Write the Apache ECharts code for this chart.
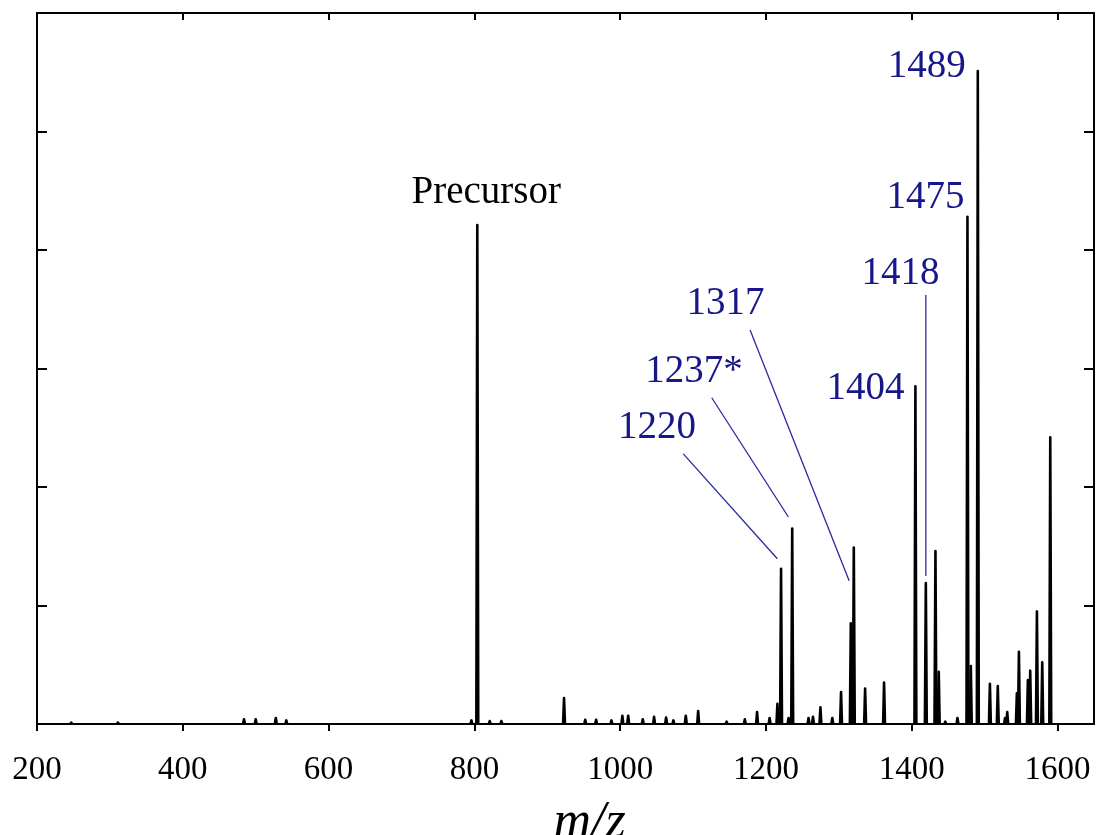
<!DOCTYPE html>
<html>
<head>
<meta charset="utf-8">
<script src="https://cdn.jsdelivr.net/npm/echarts@6/dist/echarts.min.js"></script>
<style>html,body{margin:0;padding:0;background:#fff;}#chart{width:1098px;height:835px;}</style>
</head>
<body>
<div id="chart"></div>
<script>
// ---- data ----
const xTickValues = [200, 400, 600, 800, 1000, 1200, 1400, 1600];
const peakMz = [247, 311, 484, 500, 527.6, 542, 796, 804, 821, 837, 923, 952, 967, 988, 1003, 1011, 1031, 1046.5, 1063, 1073, 1090, 1107, 1146, 1171, 1187.8, 1205, 1215.7, 1220.7, 1231, 1236, 1258.4, 1264.5, 1274.7, 1291, 1303, 1316.4, 1320.5, 1336, 1362, 1405, 1419.3, 1432.5, 1437, 1446, 1462.7, 1476.4, 1481, 1490.6, 1507.2, 1518, 1528, 1531, 1544.2, 1547, 1559.3, 1562.5, 1571.7, 1579, 1590];
const peakIntensity = [0.012, 0.012, 0.04, 0.04, 0.05, 0.03, 0.03, 4.21, 0.025, 0.025, 0.22, 0.035, 0.035, 0.03, 0.07, 0.07, 0.04, 0.06, 0.055, 0.03, 0.07, 0.11, 0.02, 0.04, 0.10, 0.05, 0.17, 1.31, 0.05, 1.65, 0.05, 0.06, 0.14, 0.05, 0.27, 0.85, 1.49, 0.30, 0.35, 2.85, 1.19, 1.46, 0.44, 0.02, 0.05, 4.28, 0.49, 5.51, 0.34, 0.32, 0.05, 0.10, 0.26, 0.61, 0.37, 0.45, 0.95, 0.52, 2.42];
const annoText = ['Precursor', '1220', '1237*', '1317', '1404', '1418', '1475', '1489'];

// ---- annotation layout (data coordinates) ----
const annoPos = [[816.2, 4.48], [1050.5, 2.50], [1101.3, 2.975], [1144.6, 3.55], [1336.7, 2.83], [1384.7, 3.80], [1419, 4.44], [1420.4, 5.545]];
const annoLine = [null, [1086.6, 2.28, 1215.6, 1.395], [1125.6, 2.753, 1230.8, 1.747], [1178.2, 3.325, 1314.1, 1.209], null, [1419.3, 3.62, 1419.3, 1.25], null, null];
const annoColor = ['#000000', '#17178a', '#17178a', '#17178a', '#17178a', '#17178a', '#17178a', '#17178a'];

const PEAK_HALF_WIDTH = 1.3;
const FONT = '"Liberation Serif", "DejaVu Serif", serif';

const chart = echarts.init(document.getElementById('chart'), null, {renderer: 'canvas'});

const axisLineStyle = {color: '#000', width: 2};
const option = {
  backgroundColor: '#fff',
  animation: false,
  grid: {left: 37, right: 4, top: 13, bottom: 111, containLabel: false, outerBoundsMode: 'none'},
  xAxis: [
    {
      type: 'value', position: 'bottom', min: 200, max: 1650, interval: 200,
      axisLine: {show: true, onZero: false, lineStyle: axisLineStyle},
      axisTick: {show: true, inside: false, length: 7, lineStyle: {color: '#000', width: 2}, customValues: xTickValues},
      axisLabel: {show: true, margin: 30, color: '#000', fontFamily: FONT, fontSize: 33, customValues: xTickValues,
        formatter: function (v) { return String(v); }},
      splitLine: {show: false},
      name: 'm/z', nameLocation: 'middle', nameGap: 73,
      nameTextStyle: {fontFamily: FONT, fontStyle: 'italic', fontSize: 52, color: '#000', padding: [0, 0, 0, 48]}
    },
    {
      type: 'value', position: 'top', min: 200, max: 1650, interval: 200,
      axisLine: {show: true, onZero: false, lineStyle: axisLineStyle},
      axisTick: {show: true, inside: true, length: 7, lineStyle: {color: '#000', width: 2}, customValues: xTickValues},
      axisLabel: {show: false},
      splitLine: {show: false}
    }
  ],
  yAxis: [
    {
      type: 'value', position: 'left', min: 0, max: 6, interval: 1,
      axisLine: {show: true, onZero: false, lineStyle: axisLineStyle},
      axisTick: {show: true, inside: true, length: 10, lineStyle: {color: '#000', width: 2}},
      axisLabel: {show: false}, splitLine: {show: false}
    },
    {
      type: 'value', position: 'right', min: 0, max: 6, interval: 1,
      axisLine: {show: true, onZero: false, lineStyle: axisLineStyle},
      axisTick: {show: true, inside: true, length: 10, lineStyle: {color: '#000', width: 2}},
      axisLabel: {show: false}, splitLine: {show: false}
    }
  ],
  series: [
    {
      type: 'custom',
      name: 'spectrum',
      xAxisIndex: 0, yAxisIndex: 0,
      clip: true,
      data: peakMz.map((m, i) => [m, peakIntensity[i]]),
      renderItem: function (params, api) {
        const m = api.value(0), h = api.value(1);
        const p0 = api.coord([m - PEAK_HALF_WIDTH, 0]);
        const p1 = api.coord([m, h]);
        const p2 = api.coord([m + PEAK_HALF_WIDTH, 0]);
        return {
          type: 'polyline',
          shape: {points: [p0, p1, p2]},
          style: {stroke: '#000', lineWidth: 2.6, fill: null, lineJoin: 'round'}
        };
      }
    },
    {
      type: 'custom',
      name: 'annotations',
      xAxisIndex: 0, yAxisIndex: 0,
      clip: false,
      silent: true,
      data: annoPos.map(p => [p[0], p[1]]),
      renderItem: function (params, api) {
        const i = params.dataIndex;
        const pt = api.coord([api.value(0), api.value(1)]);
        const children = [{
          type: 'text',
          x: pt[0], y: pt[1],
          style: {
            text: annoText[i], fill: annoColor[i],
            font: '39px ' + FONT,
            align: 'center', verticalAlign: 'middle'
          }
        }];
        const ln = annoLine[i];
        if (ln) {
          const a = api.coord([ln[0], ln[1]]);
          const b = api.coord([ln[2], ln[3]]);
          children.push({
            type: 'line',
            shape: {x1: a[0], y1: a[1], x2: b[0], y2: b[1]},
            style: {stroke: '#2a2a9c', lineWidth: 1.3}
          });
        }
        return {type: 'group', children: children};
      }
    }
  ]
};
chart.setOption(option);
</script>
</body>
</html>
